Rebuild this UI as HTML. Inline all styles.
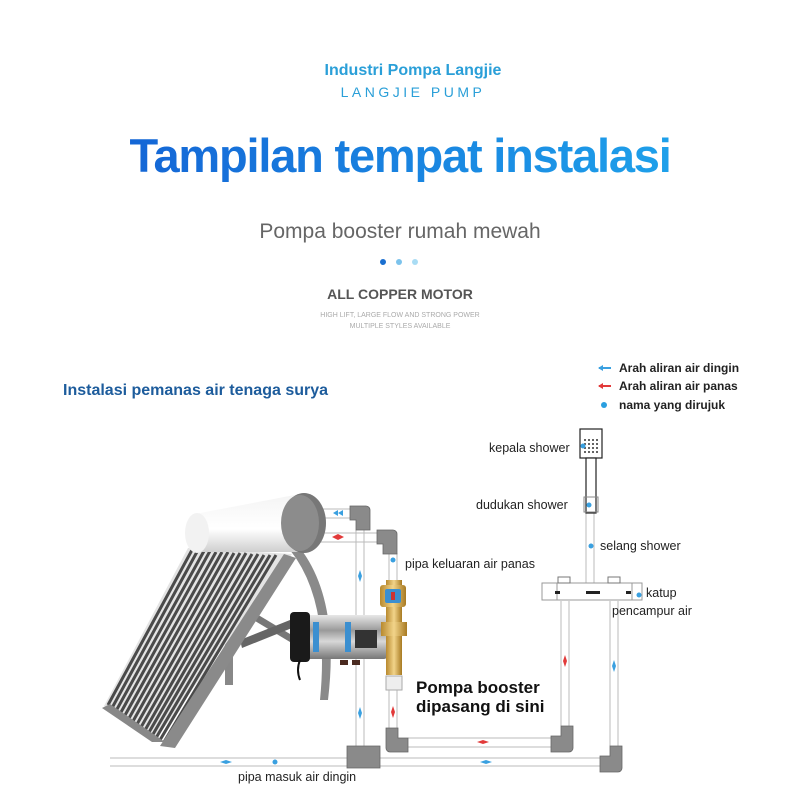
<!DOCTYPE html>
<html><head><meta charset="utf-8"><style>
body{margin:0;background:#fff}
svg{display:block}
text{font-family:"Liberation Sans",sans-serif}
</style></head><body>
<svg width="800" height="800" viewBox="0 0 800 800" xmlns="http://www.w3.org/2000/svg">
<defs>
<linearGradient id="tg" x1="0" x2="1"><stop offset="0" stop-color="#1466d6"/><stop offset="1" stop-color="#1ea0ea"/></linearGradient>
<linearGradient id="pump" x1="0" y1="0" x2="0" y2="1"><stop offset="0" stop-color="#e8e8e8"/><stop offset=".35" stop-color="#9a9a9a"/><stop offset=".6" stop-color="#d8d8d8"/><stop offset="1" stop-color="#777"/></linearGradient>
<linearGradient id="brass" x1="0" x2="1"><stop offset="0" stop-color="#b8892e"/><stop offset=".5" stop-color="#f2d48a"/><stop offset="1" stop-color="#a87a22"/></linearGradient>
<linearGradient id="tank" x1="0" y1="0" x2="0" y2="1"><stop offset="0" stop-color="#f4f4f4"/><stop offset=".6" stop-color="#ffffff"/><stop offset="1" stop-color="#cfcfcf"/></linearGradient>
</defs>
<text x="413" y="75" text-anchor="middle" font-size="16" font-weight="bold" fill="#2a9fd8">Industri Pompa Langjie</text>
<text x="413" y="97" text-anchor="middle" font-size="14" letter-spacing="3.5" fill="#2a9fd8">LANGJIE PUMP</text>
<text x="400" y="172" text-anchor="middle" font-size="47" font-weight="bold" fill="url(#tg)" letter-spacing="-1.2">Tampilan tempat instalasi</text>
<text x="400" y="238" text-anchor="middle" font-size="21" fill="#666">Pompa booster rumah mewah</text>
<circle cx="383" cy="262" r="3" fill="#1a6fd0"/><circle cx="399" cy="262" r="3" fill="#7cc3ec"/><circle cx="415" cy="262" r="3" fill="#a9dcf4"/>
<text x="400" y="299" text-anchor="middle" font-size="14" font-weight="bold" fill="#555">ALL COPPER MOTOR</text>
<text x="400" y="317" text-anchor="middle" font-size="7" fill="#aaa">HIGH LIFT, LARGE FLOW AND STRONG POWER</text>
<text x="400" y="328" text-anchor="middle" font-size="7" fill="#aaa">MULTIPLE STYLES AVAILABLE</text>
<text x="63" y="395" font-size="16" font-weight="bold" fill="#1d5c9c">Instalasi pemanas air tenaga surya</text>
<path d="M599 368 h12" stroke="#3aa0e0" stroke-width="2"/><path d="M598 368 l5 -3 v6z" fill="#3aa0e0"/>
<text x="619" y="372" font-size="12" font-weight="bold" fill="#222">Arah aliran air dingin</text>
<path d="M599 386 h12" stroke="#e23a3a" stroke-width="2"/><path d="M598 386 l5 -3 v6z" fill="#e23a3a"/>
<text x="619" y="390" font-size="12" font-weight="bold" fill="#222">Arah aliran air panas</text>
<circle cx="604" cy="405" r="3" fill="#2a9fe0"/>
<text x="619" y="409" font-size="12" font-weight="bold" fill="#222">nama yang dirujuk</text>
<g fill="none" stroke="#bbb" stroke-width="1">
<path d="M320 509 H350 M320 518 H350"/>
<path d="M320 533 H378 M320 542 H378"/>
<path d="M356 530 V746 M364 530 V746"/>
<path d="M389 553 V582 M397 553 V582"/>
<path d="M389 690 V728 M397 690 V728"/>
<path d="M408 738 H551 M408 747 H551"/>
<path d="M561 601 V726 M569 601 V726"/>
<path d="M110 758 H348 M110 766 H348 M380 758 H600 M380 766 H600"/>
<path d="M610 601 V746 M618 601 V746"/>
<path d="M586 510 V583 M594 510 V583"/>
</g>
<g fill="#8a8a8a" stroke="#666" stroke-width=".8">
<path d="M350 506 h16 a4 4 0 0 1 4 4 v20 h-14 v-10 h-6z"/>
<path d="M377 530 h16 a4 4 0 0 1 4 4 v20 h-14 v-10 h-6z" />
<path d="M347 746 h33 v22 h-33z"/>
<path d="M386 728 h12 v10 h10 v14 h-18 a4 4 0 0 1 -4 -4z"/>
<path d="M551 736 h10 v-10 h12 v22 a4 4 0 0 1 -4 4 h-18z"/>
<path d="M600 756 h10 v-10 h12 v22 a4 4 0 0 1 -4 4 h-18z"/>
</g>
<rect x="542" y="583" width="100" height="17" fill="#fff" stroke="#999"/>
<rect x="557" y="583" width="75" height="17" fill="#fff" stroke="#999"/>
<rect x="558" y="577" width="12" height="6" fill="#fff" stroke="#777"/>
<rect x="608" y="577" width="12" height="6" fill="#fff" stroke="#777"/>
<rect x="586" y="591" width="14" height="3" fill="#222"/><rect x="555" y="591" width="5" height="3" fill="#222"/><rect x="626" y="591" width="5" height="3" fill="#222"/>
<rect x="580" y="429" width="22" height="29" fill="#fff" stroke="#222" stroke-width="1.2"/>
<g fill="#333"><circle cx="585" cy="440" r="1"/><circle cx="589" cy="440" r="1"/><circle cx="593" cy="440" r="1"/><circle cx="597" cy="440" r="1"/><circle cx="585" cy="444" r="1"/><circle cx="589" cy="444" r="1"/><circle cx="593" cy="444" r="1"/><circle cx="597" cy="444" r="1"/><circle cx="585" cy="448" r="1"/><circle cx="589" cy="448" r="1"/><circle cx="593" cy="448" r="1"/><circle cx="597" cy="448" r="1"/><circle cx="585" cy="452" r="1"/><circle cx="589" cy="452" r="1"/><circle cx="593" cy="452" r="1"/><circle cx="597" cy="452" r="1"/></g>
<rect x="586" y="458" width="10" height="55" fill="#fff" stroke="#222" stroke-width="1.2"/>
<rect x="584" y="497" width="14" height="15" fill="none" stroke="#888"/>
<!-- stand -->
<path d="M290 550 Q330 600 320 700 L328 700 Q340 600 300 548Z" fill="#8a8a8a"/>
<path d="M250 610 L300 640 L300 648 L250 618Z" fill="#777"/>
<path d="M240 640 L290 620 L292 628 L242 648Z" fill="#666"/>
<path d="M225 640 v45 h8 v-45z" fill="#888"/>
<!-- solar panel -->
<path d="M188 548 L292 554 L155 740 L104 706 Z" fill="#e4e4e4"/>
<g stroke="#4a4a4a" stroke-width="3">
<path d="M192 550 L108 705 M198 550 L112 708 M204 551 L116 711 M210 551 L120 714 M216 552 L124 717 M222 552 L128 720 M228 552 L132 723 M234 553 L136 726 M240 553 L140 729 M246 553 L144 732 M252 554 L148 734 M258 554 L152 736 M264 555 L156 738 M270 555 L160 740 M276 555 L164 742"/>
</g>
<path d="M102 708 L152 742 L165 742 L110 704Z" fill="#888"/>
<path d="M284 554 L160 746 L175 748 L296 558Z" fill="#8a8a8a"/>
<!-- tank -->
<path d="M195 514 L300 494 L305 552 L200 552 Z" fill="url(#tank)"/>
<ellipse cx="197" cy="533" rx="12" ry="20" fill="#f2f2f2"/>
<ellipse cx="304" cy="523" rx="22" ry="30" fill="#777"/>
<ellipse cx="300" cy="523" rx="19" ry="28" fill="#8c8c8c"/>
<!-- pump -->
<rect x="305" y="615" width="82" height="44" rx="3" fill="url(#pump)"/>
<rect x="290" y="612" width="20" height="50" rx="4" fill="#1a1a1a"/>
<rect x="313" y="622" width="6" height="30" fill="#3b8fd0"/>
<rect x="345" y="622" width="6" height="30" fill="#3b8fd0"/>
<rect x="355" y="630" width="22" height="18" fill="#333"/>
<rect x="340" y="660" width="8" height="5" fill="#4a2a20"/><rect x="352" y="660" width="8" height="5" fill="#4a2a20"/>
<path d="M300 660 q-4 10 0 20" stroke="#111" stroke-width="2" fill="none"/>
<rect x="386" y="580" width="16" height="95" fill="url(#brass)"/>
<rect x="380" y="585" width="26" height="22" rx="3" fill="url(#brass)"/>
<rect x="385" y="589" width="16" height="14" rx="2" fill="#3b8fd0"/><rect x="391" y="592" width="4" height="8" fill="#c33"/>
<rect x="381" y="622" width="26" height="14" fill="url(#brass)"/>
<rect x="386" y="676" width="16" height="14" fill="#eee" stroke="#aaa"/>
<g fill="#3aa0e0">
<path d="M333 513 l5 -3 v6z M338 513 l5 -3 v6z" />
<path d="M360 570 l-2 6 h4z M360 582 l-2 -6 h4z"/>
<path d="M360 707 l-2 6 h4z M360 719 l-2 -6 h4z"/>
<path d="M614 660 l-2 6 h4z M614 672 l-2 -6 h4z"/>
<path d="M220 762 l6 -2 v4z M232 762 l-6 -2 v4z"/>
<path d="M480 762 l6 -2 v4z M492 762 l-6 -2 v4z"/>
<circle cx="393" cy="560" r="2.5"/><circle cx="275" cy="762" r="2.5"/><circle cx="591" cy="546" r="2.5"/><circle cx="589" cy="505" r="2.5"/><circle cx="583" cy="446" r="2.5"/><circle cx="639" cy="595" r="2.5"/>
</g>
<g fill="#e23a3a">
<path d="M332 537 l6 -3 v6z M344 537 l-6 -3 v6z"/>
<path d="M393 706 l-2 6 h4z M393 718 l-2 -6 h4z"/>
<path d="M565 655 l-2 6 h4z M565 667 l-2 -6 h4z"/>
<path d="M477 742 l6 -2 v4z M489 742 l-6 -2 v4z"/>
</g>
<g font-size="12.5" fill="#222">
<text x="489" y="452">kepala shower</text>
<text x="476" y="509">dudukan shower</text>
<text x="600" y="550">selang shower</text>
<text x="405" y="568">pipa keluaran air panas</text>
<text x="646" y="597">katup</text>
<text x="612" y="615">pencampur air</text>
<text x="238" y="781">pipa masuk air dingin</text>
</g>
<text x="416" y="693" font-size="17" font-weight="bold" fill="#111">Pompa booster</text>
<text x="416" y="712" font-size="17" font-weight="bold" fill="#111">dipasang di sini</text>
</svg>
</body></html>
